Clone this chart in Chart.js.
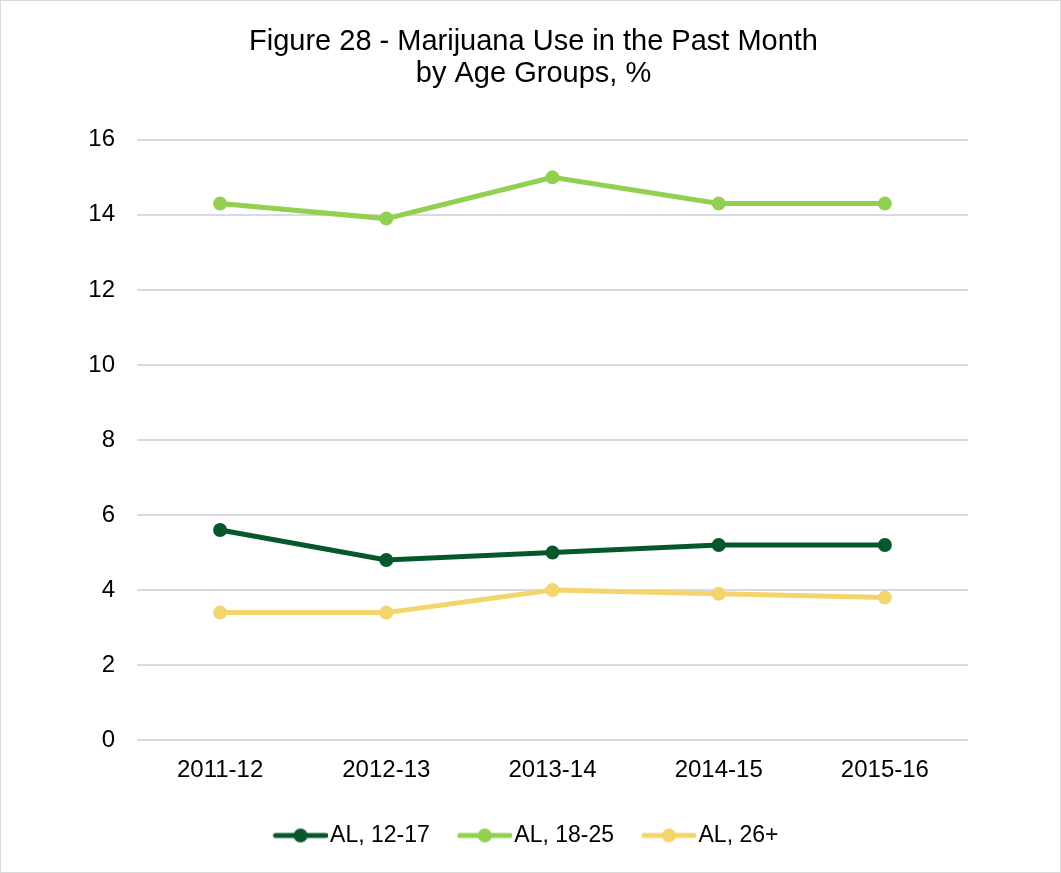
<!DOCTYPE html>
<html>
<head>
<meta charset="utf-8">
<script src="https://cdn.jsdelivr.net/npm/chart.js@4/dist/chart.umd.min.js"></script>
<style>
  body { margin: 0; background: #fff; }
  #wrap { width: 1061px; height: 873px; box-sizing: border-box; border: 1px solid #d9d9d9; }
  canvas { display: block; }
</style>
</head>
<body>
<div id="wrap"><canvas id="grafico" width="1059" height="871"></canvas></div>
<script>
// datos
var periodos = ['2011-12', '2012-13', '2013-14', '2014-15', '2015-16'];
var al1217 = [5.6, 4.8, 5.0, 5.2, 5.2];
var al1825 = [14.3, 13.9, 15.0, 14.3, 14.3];
var al26 = [3.4, 3.4, 4.0, 3.9, 3.8];
var nombres = ['AL, 12-17', 'AL, 18-25', 'AL, 26+'];
var colores = ['#04582a', '#92d050', '#f4d56c'];

// icono de leyenda: linea con punto (con margen transparente a la izquierda)
function iconoLeyenda(color) {
    var c = document.createElement('canvas');
    c.width = 68; c.height = 16;
    var g = c.getContext('2d');
    g.strokeStyle = color;
    g.lineWidth = 5;
    g.lineCap = 'round';
    g.beginPath();
    g.moveTo(16, 8); g.lineTo(66, 8);
    g.stroke();
    g.fillStyle = color;
    g.beginPath();
    g.arc(41, 8, 7, 0, Math.PI * 2);
    g.fill();
    return c;
}

function serie(nombre, datos, color) {
    return {
        label: nombre,
        data: datos,
        borderColor: color,
        backgroundColor: color,
        borderWidth: 5,
        pointRadius: 7,
        pointHoverRadius: 7,
        pointBorderWidth: 0,
        tension: 0,
        fill: false
    };
}

// corre la leyenda un poco a la izquierda
var moverLeyenda = {
    id: 'moverLeyenda',
    afterLayout: function (ch) {
        if (ch.legend) {
            ch.legend.left -= 10;
            ch.legend.right -= 10;
        }
    }
};

var fuente = 'Liberation Sans, Arial';

var ctx = document.getElementById('grafico').getContext('2d');
var chart = new Chart(ctx, {
    type: 'line',
    data: {
        labels: periodos,
        datasets: [
            serie(nombres[0], al1217, colores[0]),
            serie(nombres[1], al1825, colores[1]),
            serie(nombres[2], al26, colores[2])
        ]
    },
    plugins: [moverLeyenda],
    options: {
        responsive: false,
        animation: false,
        layout: { padding: { top: 14, left: 65, right: 59, bottom: 15 } },
        plugins: {
            title: {
                display: true,
                text: ['Figure 28 - Marijuana Use in the Past Month', 'by Age Groups, %'],
                color: '#000',
                font: { family: fuente, size: 29, weight: 'normal', lineHeight: 1.1 },
                padding: { top: 11, bottom: 50 }
            },
            legend: {
                position: 'bottom',
                labels: {
                    color: '#000',
                    font: { family: fuente, size: 23 },
                    usePointStyle: true,
                    pointStyleWidth: 50,
                    padding: 23,
                    generateLabels: function (ch) {
                        return ch.data.datasets.map(function (d, i) {
                            return {
                                text: d.label,
                                pointStyle: iconoLeyenda(colores[i]),
                                fillStyle: colores[i],
                                strokeStyle: colores[i],
                                lineWidth: 0,
                                fontColor: '#000',
                                datasetIndex: i
                            };
                        });
                    }
                }
            },
            tooltip: { enabled: false }
        },
        scales: {
            x: {
                offset: true,
                grid: { display: false, drawTicks: false },
                border: { display: false },
                ticks: { color: '#000', font: { family: fuente, size: 24 }, padding: 16 }
            },
            y: {
                min: 0,
                max: 16,
                ticks: { stepSize: 2, color: '#000', font: { family: fuente, size: 24 }, padding: 22 },
                grid: { color: '#d9d9e6', lineWidth: 2, drawTicks: false },
                border: { display: false },
                afterFit: function (s) { s.width = 71; }
            },
            // eje vacio a la derecha, solo para dejar margen
            margenDer: {
                position: 'right',
                display: true,
                grid: { display: false, drawTicks: false },
                border: { display: false },
                ticks: { display: false },
                afterFit: function (s) { s.width = 33; }
            }
        }
    }
});
</script>
</body>
</html>
